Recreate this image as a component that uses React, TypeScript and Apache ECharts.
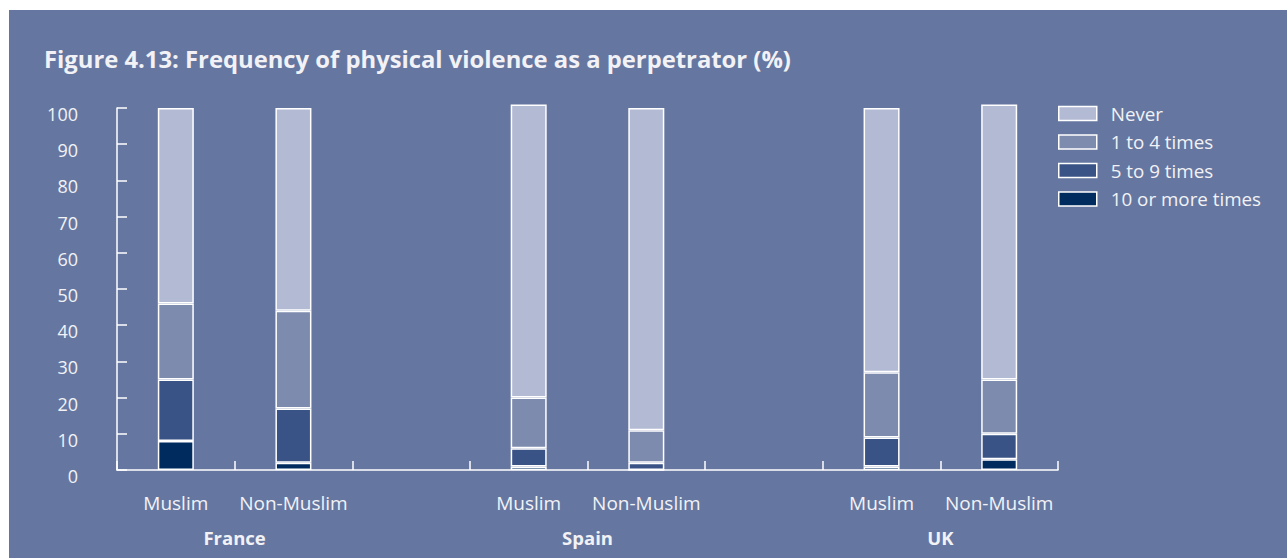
import React, { useEffect, useRef } from "react";
import * as echarts from "echarts";

const countries = ["France", "Spain", "UK"];
const groups = ["Muslim", "Non-Muslim"];
const seriesNames = ["Never", "1 to 4 times", "5 to 9 times", "10 or more times"];

// slot order: France M, France NM, gap, Spain M, Spain NM, gap, UK M, UK NM
const never = [54, 56, null, 81, 89, null, 73, 76];
const oneToFour = [21, 27, null, 14, 9, null, 18, 15];
const fiveToNine = [17, 15, null, 5, 2, null, 8, 7];
const tenPlus = [8, 2, null, 1, 0, null, 1, 3];

const yTicks = { min: 0, max: 100, interval: 10 };

const colors: Record<string, string> = {
  "Never": "#b3bad4",
  "1 to 4 times": "#7d8bae",
  "5 to 9 times": "#3a5386",
  "10 or more times": "#002b5f",
};

const BG = "#6577a0";
const TXT = "#f2f2f6";
const FONT = "'Open Sans', sans-serif";

export default function App() {
  const ref = useRef<HTMLDivElement>(null);
  useEffect(() => {
    if (!ref.current) return;
    const chart = echarts.init(ref.current, undefined, { renderer: "svg" });

    const cats: string[] = [];
    countries.forEach((c, i) => {
      groups.forEach((g) => cats.push(c + "|" + g));
      if (i < countries.length - 1) cats.push("gap" + i);
    });
    const countryAxis: string[] = [];
    for (let i = 0; i <= cats.length; i++) countryAxis.push("b" + i);
    countries.forEach((c, i) => {
      countryAxis[i * 3 + 1] = c;
    });

    const dataBy: Record<string, (number | null)[]> = {
      "Never": never,
      "1 to 4 times": oneToFour,
      "5 to 9 times": fiveToNine,
      "10 or more times": tenPlus,
    };
    const stackOrder = ["10 or more times", "5 to 9 times", "1 to 4 times", "Never"];

    chart.setOption({
      animation: false,
      backgroundColor: BG,
      textStyle: { fontFamily: FONT },
      title: {
        text: "Figure 4.13: Frequency of physical violence as a perpetrator (%)",
        left: 30,
        top: 32,
        textStyle: { color: TXT, fontSize: 23.8, fontWeight: "bold", fontFamily: FONT },
      },
      legend: {
        orient: "vertical",
        left: 1044,
        top: 89,
        data: seriesNames,
        itemWidth: 38,
        itemHeight: 14,
        itemGap: 9.5,
        icon: "rect",
        textStyle: { color: TXT, fontSize: 18.8, fontFamily: FONT, padding: [0, 0, 0, 9] },
        itemStyle: { borderColor: "#ffffff", borderWidth: 1.5 },
      },
      grid: { left: 108, right: 229, top: 98, bottom: 88, containLabel: false },
      xAxis: [
        {
          type: "category",
          data: cats,
          boundaryGap: true,
          axisLine: { lineStyle: { color: "#ffffff", width: 1.5 } },
          axisTick: { show: true, inside: true, length: 9, interval: 0, lineStyle: { color: "#ffffff", width: 1.5 } },
          axisLabel: {
            interval: 0,
            margin: 23.5,
            color: TXT,
            fontSize: 19,
            fontFamily: FONT,
            formatter: (v: string) => (v.indexOf("|") >= 0 ? v.split("|")[1] : ""),
          },
        },
        {
          type: "category",
          data: countryAxis,
          boundaryGap: false,
          position: "bottom",
          axisLine: { show: false },
          axisTick: { show: false },
          axisLabel: {
            interval: 0,
            margin: 58,
            color: TXT,
            fontSize: 18.5,
            fontWeight: "bold",
            fontFamily: FONT,
            formatter: (v: string) => (countries.indexOf(v) >= 0 ? v : ""),
          },
        },
      ],
      yAxis: {
        type: "value",
        min: yTicks.min,
        max: yTicks.max,
        interval: yTicks.interval,
        splitLine: { show: false },
        axisLine: { show: true, lineStyle: { color: "#ffffff", width: 1.5 } },
        axisTick: { show: true, inside: true, length: 10, lineStyle: { color: "#ffffff", width: 1.5 } },
        axisLabel: { color: TXT, fontSize: 18, fontFamily: FONT, margin: 39, verticalAlign: "top", lineHeight: 12 },
      },
      series: stackOrder.map((name) => ({
        name,
        type: "bar",
        stack: "total",
        xAxisIndex: 0,
        barWidth: 36,
        clip: false,
        data: dataBy[name],
        itemStyle: { color: colors[name], borderColor: "#ffffff", borderWidth: 1.5 },
      })),
    });
    return () => chart.dispose();
  }, []);
  return (
    <div
      ref={ref}
      style={{ position: "absolute", left: 9, top: 10, width: 1278, height: 548 }}
    />
  );
}
